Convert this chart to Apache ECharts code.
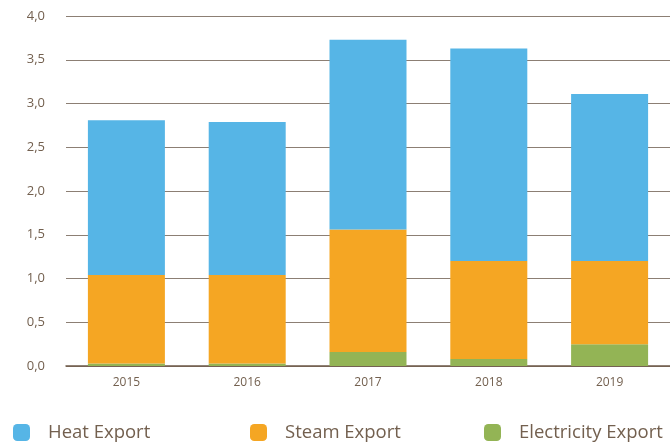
<!DOCTYPE html>
<html><head><meta charset="utf-8">
<script src="https://cdn.jsdelivr.net/npm/echarts@6/dist/echarts.min.js"></script>
<style>html,body{margin:0;padding:0;background:#fff}#c{width:670px;height:444px}</style>
</head><body><div id="c"></div>
<script>
var categories = ['2015','2016','2017','2018','2019'];
var electricity = [0.03, 0.03, 0.16, 0.08, 0.25];
var steam = [1.01, 1.01, 1.40, 1.12, 0.95];
var heat = [1.77, 1.75, 2.17, 2.43, 1.91];
var seriesNames = ['Heat Export','Steam Export','Electricity Export'];
var colors = ['#56b5e6','#f5a623','#93b455'];
var txt = '#73604f';
var font = 'Open Sans';
var chart = echarts.init(document.getElementById('c'));
function lg(name, left){
  return {show:true, data:[name], left:left, top:423, padding:0, itemWidth:17, itemHeight:17,
    icon:'roundRect', selectedMode:false,
    textStyle:{color:txt, fontSize:18.5, fontFamily:font, padding:[0,0,0,13]}};
}
chart.setOption({
  animation:false,
  color: colors,
  legend:[lg(seriesNames[0],13), lg(seriesNames[1],250), lg(seriesNames[2],484)],
  grid:{left:66, right:0, top:16, bottom:78},
  xAxis:{type:'category', data:categories,
    axisLine:{lineStyle:{color:'#6e5a48', width:1.5}}, axisTick:{show:false},
    axisLabel:{color:txt, fontSize:12, fontFamily:font, margin:11}},
  yAxis:{type:'value', min:0, max:4, interval:0.5,
    axisLine:{show:false}, axisTick:{show:false},
    splitLine:{lineStyle:{color:'#8c7f74', width:1.2}},
    axisLabel:{color:txt, fontSize:13, fontFamily:font, margin:21,
      formatter:function(v){return v.toFixed(1).replace('.',',');}}},
  series:[
    {name:seriesNames[2], type:'bar', stack:'a', data:electricity, barWidth:77, itemStyle:{color:colors[2]}},
    {name:seriesNames[1], type:'bar', stack:'a', data:steam, barWidth:77, itemStyle:{color:colors[1]}},
    {name:seriesNames[0], type:'bar', stack:'a', data:heat, barWidth:77, itemStyle:{color:colors[0]}}
  ]
});
</script></body></html>
